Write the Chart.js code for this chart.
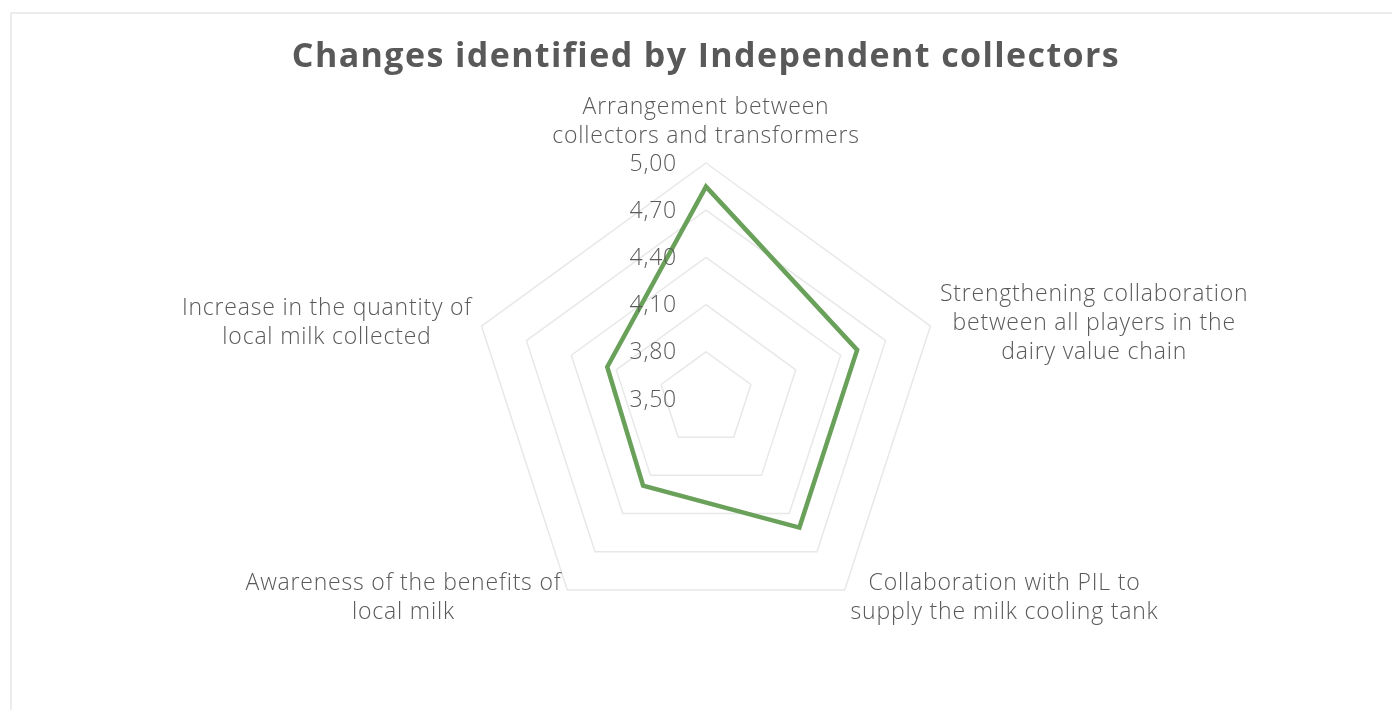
<!DOCTYPE html>
<html>
<head>
<meta charset="utf-8">
<title>Changes identified by Independent collectors</title>
<script src="https://cdn.jsdelivr.net/npm/chart.js@4/dist/chart.umd.min.js"></script>
<style>
  html, body { margin: 0; padding: 0; background: #ffffff; }
  #wrap { position: relative; width: 1392px; height: 710px; }
</style>
</head>
<body>
<div id="wrap"><canvas id="chart"></canvas></div>
<script>
// Survey axes (one per radar spoke), split into display lines
const categories = [
  ["Arrangement between", "collectors and transformers"],
  ["Strengthening collaboration", "between all players in the", "dairy value chain"],
  ["Collaboration with PIL to", "supply the milk cooling tank"],
  ["Awareness of the benefits of", "local milk"],
  ["Increase in the quantity of", "local milk collected"]
];

// Average score per axis
const scores = [4.85, 4.51, 4.51, 4.18, 4.16];

// Radial scale range and tick step
const scaleMin = 3.5;
const scaleMax = 5.0;
const scaleStep = 0.3;

const chartTitle = "Changes identified by Independent collectors";

const textColor = "#595959";
const labelFont = '300 23px "Open Sans", "Noto Sans", sans-serif';
const titleFont = 'bold 34px "Open Sans", Lato, sans-serif';

const fmt = v => v.toFixed(2).replace(".", ",");

// Frame, title, tick values and multi-line spoke labels
const decorations = {
  id: "decorations",
  beforeDraw(chart) {
    const ctx = chart.ctx;
    ctx.save();
    ctx.strokeStyle = "#ececec";
    ctx.lineWidth = 2;
    ctx.beginPath();
    ctx.moveTo(11, chart.height + 5);
    ctx.lineTo(11, 13);
    ctx.lineTo(chart.width + 5, 13);
    ctx.stroke();
    ctx.restore();
  },
  afterDraw(chart) {
    const ctx = chart.ctx;
    const scale = chart.scales.r;
    ctx.save();
    ctx.fillStyle = textColor;

    // title
    ctx.font = titleFont;
    ctx.letterSpacing = "1.4px";
    ctx.textAlign = "center";
    ctx.textBaseline = "alphabetic";
    ctx.fillText(chartTitle, scale.xCenter, 67);

    // tick values, right-aligned beside the vertical spoke
    ctx.font = labelFont;
    ctx.letterSpacing = "0.8px";
    ctx.textAlign = "right";
    ctx.textBaseline = "middle";
    scale.ticks.forEach(t => {
      const d = scale.getDistanceFromCenterForValue(t.value);
      ctx.fillText(fmt(t.value), scale.xCenter - 29, scale.yCenter - d + 1);
    });

    // spoke labels
    const lineH = 29;
    categories.forEach((lines, i) => {
      const p = scale.getPointPosition(i, scale.drawingArea + 10);
      const cx = Math.cos(p.angle), cy = Math.sin(p.angle);
      let align = "center";
      if (cx > 0.2) align = "left";
      else if (cx < -0.2) align = "right";
      const blockH = lines.length * lineH;
      let top;
      if (Math.abs(cx) <= 0.2 && cy < 0) top = p.y - blockH - 2;
      else if (Math.abs(cx) <= 0.2 && cy > 0) top = p.y;
      else top = p.y - blockH / 2;

      // lines are centred on each other inside the block
      let widest = 0;
      lines.forEach(s => { widest = Math.max(widest, ctx.measureText(s).width); });
      let mid;
      if (align === "left") mid = p.x + widest / 2;
      else if (align === "right") mid = p.x - widest / 2;
      else mid = p.x;
      ctx.textAlign = "center";
      ctx.textBaseline = "middle";
      lines.forEach((s, k) => {
        ctx.fillText(s, mid, top + lineH * k + lineH / 2);
      });
    });
    ctx.restore();
  }
};

new Chart(document.getElementById("chart"), {
  type: "radar",
  data: {
    labels: categories,
    datasets: [{
      label: "Independent collectors",
      data: scores,
      borderColor: "#6aa15a",
      borderWidth: 4.5,
      fill: false,
      pointRadius: 0,
      pointHoverRadius: 0,
      tension: 0
    }]
  },
  options: {
    responsive: true,
    maintainAspectRatio: false,
    animation: false,
    layout: { padding: { top: 163, bottom: 74, left: 206, right: 186 } },
    plugins: {
      legend: { display: false },
      title: { display: false },
      tooltip: { enabled: false }
    },
    scales: {
      r: {
        min: scaleMin,
        max: scaleMax,
        angleLines: { display: false },
        grid: { color: "#e8e8e8", lineWidth: 1.5, circular: false },
        pointLabels: { display: false },
        ticks: { display: false, stepSize: scaleStep }
      }
    }
  },
  plugins: [decorations]
});
</script>
</body>
</html>
